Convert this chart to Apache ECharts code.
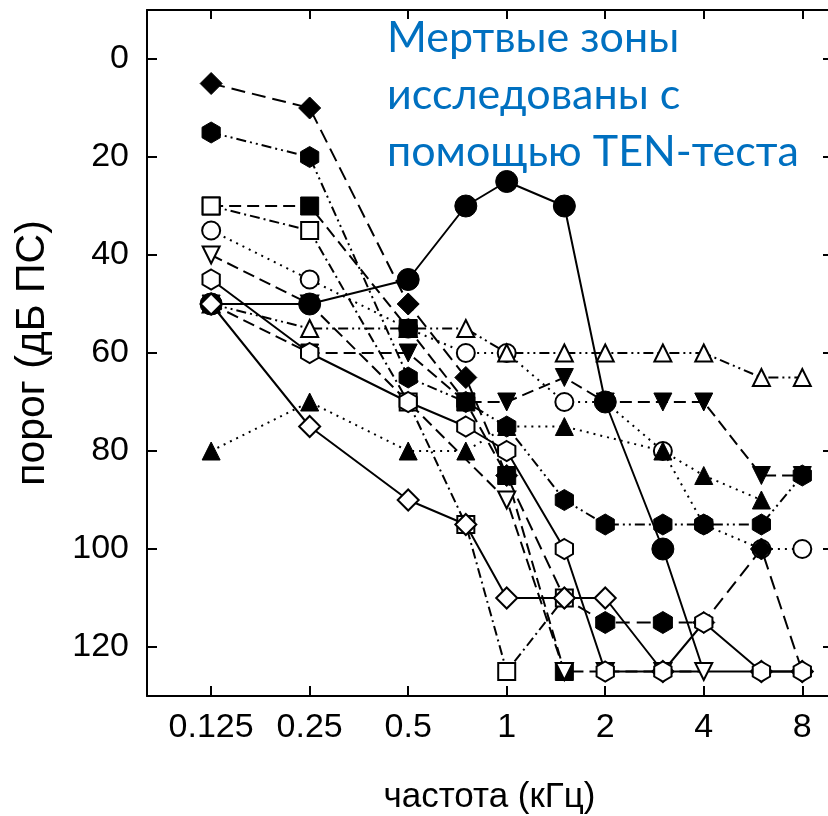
<!DOCTYPE html>
<html>
<head>
<meta charset="utf-8">
<script src="https://cdn.jsdelivr.net/npm/echarts@6/dist/echarts.min.js"></script>
<style>
  html, body { margin: 0; padding: 0; background: #fff; }
  #chart { width: 828px; height: 816px; }
</style>
</head>
<body>
<div id="chart"></div>
<script>
// частоты (кГц) и пороги (дБ ПС) по пациентам
var freqs = [0.125, 0.25, 0.5, 0.75, 1, 1.5, 2, 3, 4, 6, 8];
var xTicks = [0.125, 0.25, 0.5, 1, 2, 4, 8];
var xTickLabels = ['0.125', '0.25', '0.5', '1', '2', '4', '8'];

var filledDownTriangle = [50, 60, 60, 70, 70, 65, 70, 70, 70, 85, 85];
var openCircle = [35, 45, 55, 60, 60, 70, 70, 80, 95, 100, 100];
var openTriangle = [50, 55, 55, 55, 60, 60, 60, 60, 60, 65, 65];
var filledDiamond = [5, 10, 50, 65, 85, 110, 115, 115, 115, 100, 125];
var filledTriangle = [80, 70, 80, 80, 75, 75, null, 80, 85, 90, null];
var filledHexagon = [15, 20, 65, 70, 75, 90, 95, 95, 95, 95, 85];
var filledSquare = [30, 30, 55, 70, 85, 125, null, null, null, null, null];
var openDownTriangle = [40, 50, null, null, 90, 125, 125, 125, 125, null, null];
var filledCircle = [50, 50, 45, 30, 25, 30, 70, 100, 125, null, null];
var openSquare = [30, 35, 70, 95, 125, 110, null, null, null, null, null];
var openDiamond = [50, 75, 90, 95, 110, 110, 110, 125, 125, 125, 125];
var openHexagon = [45, 60, 70, 75, 80, 100, 125, 125, 115, 125, 125];

var annotation = ['Мертвые зоны', 'исследованы с', 'помощью TEN-теста'];

var HEX = 'path://M0,-10L8.66,-5L8.66,5L0,10L-8.66,5L-8.66,-5Z';
var SOLID = 'solid';
var DASHED = [12, 6];
var DOTTED = [2, 5];
var DASHDOT = [10, 4, 2, 4];
var DASHDOTDOT = [10, 4, 2, 4, 2, 4];

// symbolAt: index -> symbol used at that point instead of the series one
function makeSeries(values, symbol, size, filled, lineType, rotate, symbolAt) {
    var data = [];
    freqs.forEach(function (f, i) {
        if (values[i] === null) return;
        if (symbolAt && symbolAt[i]) data.push({ value: [f, values[i]], symbol: symbolAt[i] });
        else data.push([f, values[i]]);
    });
    return {
        type: 'line',
        data: data,
        symbol: symbol,
        symbolSize: size,
        symbolRotate: rotate || 0,
        symbolKeepAspect: true,
        showAllSymbol: true,
        silent: true,
        lineStyle: { color: '#000', width: 2, type: lineType },
        itemStyle: {
            color: filled ? '#000' : '#fff',
            borderColor: '#000',
            borderWidth: filled ? 1 : 2
        },
        emphasis: { disabled: true }
    };
}

var chart = echarts.init(document.getElementById('chart'));

var axisFont = { fontFamily: 'Liberation Sans', fontSize: 34, color: '#000' };
var frameLine = { onZero: false, lineStyle: { color: '#000', width: 2 } };

chart.setOption({
    animation: false,
    grid: { left: 147, top: 10, right: -4, bottom: 120, outerBoundsMode: 'none' },
    xAxis: [{
        type: 'log',
        logBase: 2,
        min: 0.0796,
        max: 9.86,
        name: 'частота (кГц)',
        nameLocation: 'middle',
        nameGap: 84,
        nameTextStyle: { fontFamily: 'Liberation Sans', fontSize: 35, color: '#000' },
        axisLine: frameLine,
        axisTick: { inside: true, length: 10, lineStyle: { color: '#000', width: 2 } },
        axisLabel: Object.assign({
            margin: 15,
            showMinLabel: false,
            showMaxLabel: false,
            formatter: function (v) {
                for (var i = 0; i < xTicks.length; i++) {
                    if (Math.abs(Math.log2(v) - Math.log2(xTicks[i])) < 1e-6) return xTickLabels[i];
                }
                return '';
            }
        }, axisFont),
        splitLine: { show: false }
    }, {
        type: 'log',
        logBase: 2,
        min: 0.0796,
        max: 9.86,
        position: 'top',
        axisLine: frameLine,
        axisTick: { inside: true, length: 9, lineStyle: { color: '#000', width: 2 } },
        axisLabel: { show: false },
        splitLine: { show: false }
    }],
    yAxis: [{
        type: 'value',
        inverse: true,
        min: -10,
        max: 130,
        splitNumber: 7,
        name: 'порог (дБ ПС)',
        nameLocation: 'middle',
        nameGap: 94,
        nameRotate: 90,
        nameTextStyle: { fontFamily: 'Liberation Sans', fontSize: 41, color: '#000' },
        axisLine: Object.assign({ show: true }, frameLine),
        axisTick: { show: true, inside: true, length: 10, lineStyle: { color: '#000', width: 2 } },
        axisLabel: Object.assign({ margin: 18, showMinLabel: false, showMaxLabel: false }, axisFont),
        splitLine: { show: false }
    }, {
        type: 'value',
        inverse: true,
        min: -10,
        max: 130,
        splitNumber: 7,
        position: 'right',
        axisLine: Object.assign({ show: true }, frameLine),
        axisTick: { show: true, inside: true, length: 9, lineStyle: { color: '#000', width: 2 } },
        axisLabel: { show: false },
        splitLine: { show: false }
    }],
    graphic: annotation.map(function (line, i) {
        return {
            type: 'text',
            left: 387,
            top: 17 + i * 57,
            silent: true,
            style: { text: line, fill: '#0070C0', font: '43px Lato' }
        };
    }),
    series: [
        makeSeries(filledDownTriangle, 'triangle', 18, true, DASHED, 180),
        makeSeries(openCircle, 'circle', 18, false, DOTTED),
        makeSeries(openTriangle, 'triangle', 17, false, DASHDOTDOT),
        makeSeries(filledDiamond, 'diamond', 22, true, [14, 7], 0, { 6: HEX, 7: HEX }),
        makeSeries(filledTriangle, 'triangle', 18, true, DOTTED),
        makeSeries(filledHexagon, HEX, 21, true, DASHDOTDOT),
        makeSeries(filledSquare, 'rect', 18, true, DASHED),
        makeSeries(openDownTriangle, 'triangle', 17, false, DASHED, 180),
        makeSeries(filledCircle, 'circle', 22, true, SOLID, 0, { 8: 'none' }),
        makeSeries(openSquare, 'rect', 17, false, DASHDOT),
        makeSeries(openDiamond, 'diamond', 21, false, SOLID, 0, { 8: 'none' }),
        makeSeries(openHexagon, HEX, 20, false, SOLID)
    ]
});
</script>
</body>
</html>
